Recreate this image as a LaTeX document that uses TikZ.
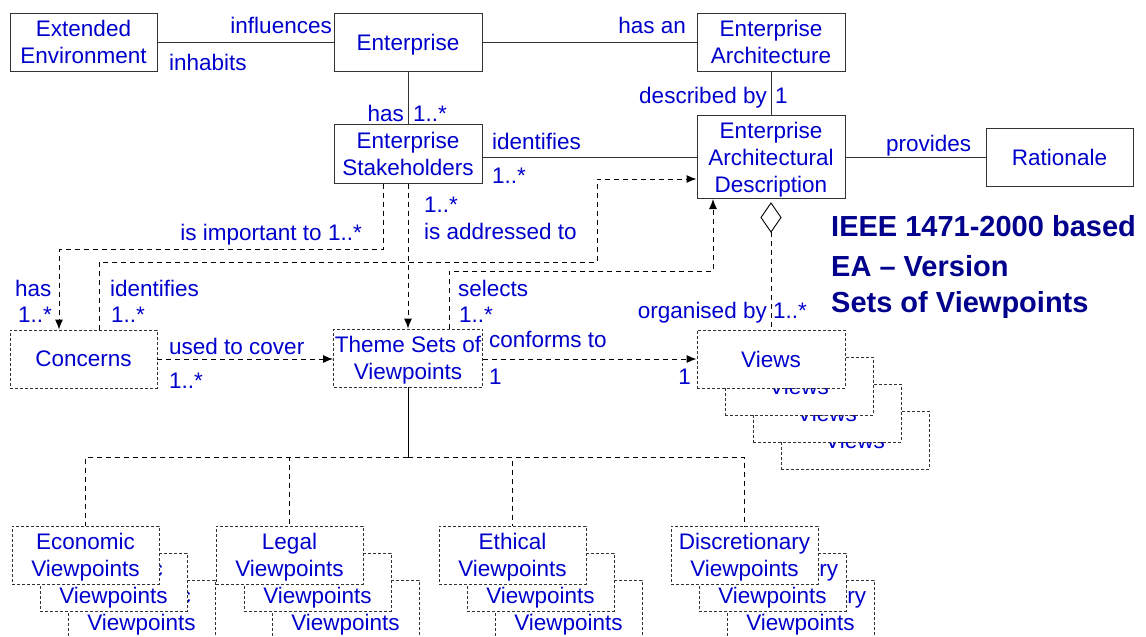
\documentclass[tikz,border=0pt]{standalone}
\usepackage{fontspec}
\setmainfont{Liberation Sans}
\usetikzlibrary{arrows.meta}
\definecolor{lblue}{RGB}{0,0,205}
\definecolor{tnavy}{RGB}{0,0,140}
\begin{document}
\begin{tikzpicture}[x=1pt,y=-1pt,
  every node/.style={font=\fontsize{22.5}{27}\selectfont, text=lblue},
  sbox/.style={draw=black!80, line width=1pt, fill=white, minimum width=147pt, minimum height=58pt, inner sep=0pt, align=center, text depth=-1pt},
  dbox/.style={draw=black!80, line width=0.9pt, dash pattern=on 3pt off 2pt, fill=white, minimum width=147pt, minimum height=58pt, inner sep=0pt, align=center, text depth=-1pt},
  sline/.style={draw=black!80, line width=1pt},
  dline/.style={draw=black, line width=1pt, dash pattern=on 5pt off 4pt},
  darrow/.style={dline, -{Latex[length=10pt,width=8pt]}},
  lbl/.style={inner sep=0pt, text height=17pt, text depth=1pt},
  ttl/.style={inner sep=0pt, anchor=west, text=tnavy, text height=21pt, text depth=0pt, font=\fontsize{29}{34}\selectfont\bfseries}
]
\path[use as bounding box] (0,0) rectangle (1146,637);
\clip (0,0) rectangle (1146,637);

% solid boxes
\node[sbox] (ext) at (83.5,42) {Extended\\Environment};
\node[sbox, minimum width=148pt] (ent) at (408,42) {Enterprise};
\node[sbox, minimum width=148pt] (ea) at (771,42) {Enterprise\\Architecture};
\node[sbox, minimum width=148pt, minimum height=59pt] (stk) at (408,153.5) {Enterprise\\Stakeholders};
\node[sbox, minimum width=148pt, minimum height=83pt] (ead) at (771,157) {Enterprise\\Architectural\\Description};
\node[sbox] (rat) at (1059.5,157) {Rationale};

% dashed boxes
\node[dbox] (con) at (83.5,359) {Concerns};
\node[dbox, minimum width=149pt] (thm) at (408,358) {Theme Sets of\\Viewpoints};

% views stack
\node[dbox, minimum width=148pt] (views4) at (855,440) {Views};
\node[dbox, minimum width=148pt] (views3) at (827,413) {Views};
\node[dbox, minimum width=148pt] (views2) at (799,386) {Views};
\node[dbox, minimum width=148pt] (views1) at (771,359) {Views};

% bottom stacks
\node[dbox] (eco3) at (141.5,609) {Economic\\Viewpoints};
\node[dbox] (eco2) at (113.5,582) {Economic\\Viewpoints};
\node[dbox] (eco1) at (85.5,555) {Economic\\Viewpoints};
\node[dbox] (leg3) at (345.5,609) {Legal\\Viewpoints};
\node[dbox] (leg2) at (317.5,582) {Legal\\Viewpoints};
\node[dbox] (leg1) at (289.5,555) {Legal\\Viewpoints};
\node[dbox] (eth3) at (568.5,609) {Ethical\\Viewpoints};
\node[dbox] (eth2) at (540.5,582) {Ethical\\Viewpoints};
\node[dbox] (eth1) at (512.5,555) {Ethical\\Viewpoints};
\node[dbox] (dis3) at (800.5,609) {Discretionary\\Viewpoints};
\node[dbox] (dis2) at (772.5,582) {Discretionary\\Viewpoints};
\node[dbox] (dis1) at (744.5,555) {Discretionary\\Viewpoints};

% solid connectors
\draw[sline] (ext.east) -- (ent.west);
\draw[sline] (ent.east) -- (ea.west);
\draw[sline] (ent.south) -- (stk.north);
\draw[sline] (ea.south) -- (ead.north);
\draw[sline] (stk.east |- ead.west) -- (ead.west);
\draw[sline] (ead.east) -- (rat.west);

% aggregation diamond
\coordinate (dtop) at (771,203);
\coordinate (dbot) at (771,232);
\draw[draw=black, line width=0.9pt, fill=white] (dtop) -- (781,217.5) -- (dbot) -- (761,217.5) -- cycle;
\draw[dline] (dbot) -- (views1.north);

% dashed connectors
\coordinate (k1) at (383,249);
\coordinate (k2) at (59,0);
\draw[darrow] (stk.south -| k1) -- (k1) -| (con.north -| k2);
\coordinate (k3) at (99,262);
\coordinate (k4) at (597,179);
\draw[darrow] (con.north -| k3) -- (k3) -| (k4) -- (ead.west |- k4);
\draw[darrow] (stk.south) -- (thm.north);
\coordinate (k6) at (449,271);
\coordinate (k7) at (713,0);
\draw[darrow] (thm.north -| k6) -- (k6) -| (ead.south -| k7);
\draw[darrow] (con.east) -- (thm.west |- con.east);
\draw[darrow] (thm.east |- views1.west) -- (views1.west);

% tree
\coordinate (jt) at (408,457);
\draw[sline, draw=black] (thm.south) -- (jt);
\foreach \n in {eco1,leg1,eth1,dis1} \draw[dline] (jt) -| (\n.north);

% labels
\node[lbl, anchor=east] (l1) at (332,25) {influences};
\node[lbl, anchor=west] (l2) at (169,62) {inhabits};
\node[lbl, anchor=east] (l3) at (686,25) {has an};
\node[lbl, anchor=east] (l4) at (404,113) {has};
\node[lbl, anchor=west] (l5) at (413,113) {1..*};
\node[lbl, anchor=east] (l6) at (767,95) {described by};
\node[lbl, anchor=west] (l7) at (775,95) {1};
\node[lbl, anchor=west] (l8) at (492,141) {identifies};
\node[lbl, anchor=west] (l9) at (492,175) {1..*};
\node[lbl, anchor=west] (l10) at (886,143) {provides};
\node[lbl, anchor=east] (l11) at (362,232) {is important to 1..*};
\node[lbl, anchor=west] (l12) at (424,204) {1..*};
\node[lbl, anchor=west] (l13) at (424,231) {is addressed to};
\node[lbl, anchor=west] (l14) at (15,288) {has};
\node[lbl, anchor=west] (l15) at (18,314) {1..*};
\node[lbl, anchor=west] (l16) at (110,288) {identifies};
\node[lbl, anchor=west] (l17) at (111,314) {1..*};
\node[lbl, anchor=west] (l18) at (458,288) {selects};
\node[lbl, anchor=west] (l19) at (459,314) {1..*};
\node[lbl, anchor=east] (l20) at (767,310) {organised by};
\node[lbl, anchor=west] (l21) at (773,310) {1..*};
\node[lbl, anchor=west] (l22) at (169,346) {used to cover};
\node[lbl, anchor=west] (l23) at (169,380) {1..*};
\node[lbl, anchor=west] (l24) at (489,339) {conforms to};
\node[lbl, anchor=west] (l25) at (489,376) {1};
\node[lbl, anchor=east] (l26) at (691,376) {1};

% title
\node[ttl] (t1) at (831,226) {IEEE 1471-2000 based};
\node[ttl] (t2) at (831,266) {EA -- Version};
\node[ttl] (t3) at (831,302) {Sets of Viewpoints};
\end{tikzpicture}
\end{document}
